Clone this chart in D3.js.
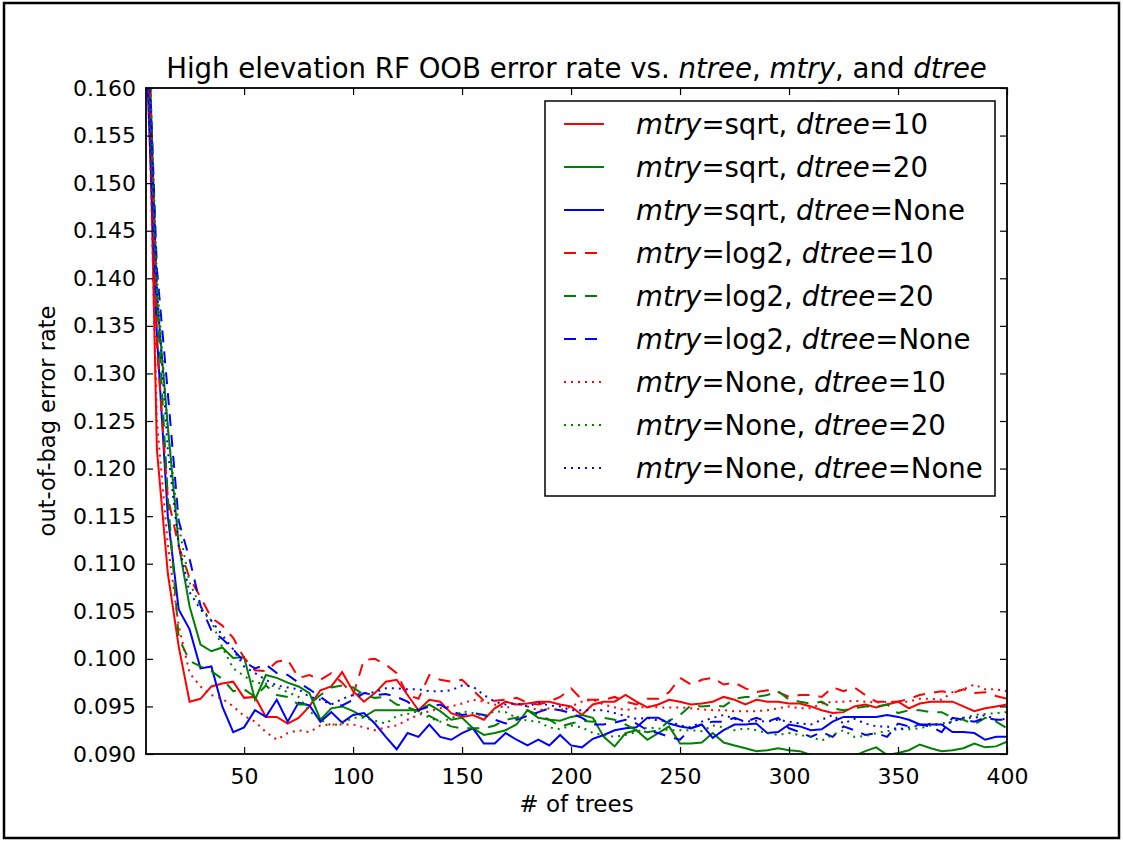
<!DOCTYPE html>
<html>
<head>
<meta charset="utf-8">
<script src="https://cdn.jsdelivr.net/npm/d3@7"></script>
<style>
  body { margin: 0; background: #fff; }
  text { font-family: "DejaVu Sans", sans-serif; fill: #000; }
</style>
</head>
<body>
<div id="chart"></div>
<script>
"use strict";

// number of trees, 5 .. 400 step 5
const ntree = d3.range(5, 401, 5);

// out-of-bag error rate per setting (one value per ntree)
const sqrt10 = [
  0.176, 0.122, 0.109, 0.1013, 0.0955, 0.0958, 0.0971, 0.0974, 0.0976, 0.0959,
  0.0960, 0.0939, 0.0939, 0.0932, 0.0938, 0.0950, 0.0967, 0.0971, 0.0986, 0.0966,
  0.0955, 0.0964, 0.0976, 0.0978, 0.0962, 0.0946, 0.0957, 0.0955, 0.0943, 0.0939,
  0.0941, 0.0936, 0.0948, 0.0955, 0.0952, 0.0953, 0.0955, 0.0955, 0.0952, 0.0950,
  0.0941, 0.0952, 0.0955, 0.0955, 0.0962, 0.0955, 0.0949, 0.0952, 0.0957, 0.0955,
  0.0952, 0.0953, 0.0955, 0.0960, 0.0957, 0.0952, 0.0957, 0.0955, 0.0955, 0.0953,
  0.0953, 0.0950, 0.0946, 0.0943, 0.0944, 0.0950, 0.0952, 0.0949, 0.0952, 0.0955,
  0.0948, 0.0953, 0.0955, 0.0955, 0.0955, 0.0950, 0.0945, 0.0948, 0.0950, 0.0952
];
const sqrt20 = [
  0.175, 0.138, 0.1245, 0.112, 0.1055, 0.1015, 0.1008, 0.1012, 0.1001, 0.1002,
  0.0957, 0.0983, 0.0980, 0.0975, 0.0971, 0.0964, 0.0936, 0.0948, 0.0950, 0.0945,
  0.0939, 0.0946, 0.0946, 0.0946, 0.0946, 0.0946, 0.0952, 0.0945, 0.0936, 0.0938,
  0.0927, 0.0920, 0.0922, 0.0925, 0.0931, 0.0946, 0.0938, 0.0936, 0.0935, 0.0939,
  0.0941, 0.0938, 0.0918, 0.0908, 0.0922, 0.0925, 0.0915, 0.0922, 0.0929, 0.0911,
  0.0911, 0.0912, 0.0922, 0.0912, 0.0909, 0.0906, 0.0903, 0.0904, 0.0906, 0.0904,
  0.0903, 0.0899, 0.0897, 0.0899, 0.0896, 0.0898, 0.0903, 0.0907, 0.0899, 0.0901,
  0.0904, 0.0910, 0.0906, 0.0903, 0.0904, 0.0906, 0.0911, 0.0907, 0.0908, 0.0913
];
const sqrtNone = [
  0.165, 0.134, 0.115, 0.1052, 0.1031, 0.0990, 0.0992, 0.0950, 0.0923, 0.0928,
  0.0946, 0.0939, 0.0957, 0.0934, 0.0954, 0.0951, 0.0934, 0.0944, 0.0933, 0.0941,
  0.0943, 0.0932, 0.0918, 0.0905, 0.0922, 0.0918, 0.0931, 0.0918, 0.0915, 0.0922,
  0.0927, 0.0911, 0.0911, 0.0922, 0.0915, 0.0909, 0.0915, 0.0909, 0.0920, 0.0909,
  0.0907, 0.0916, 0.0920, 0.0925, 0.0927, 0.0928, 0.0938, 0.0938, 0.0932, 0.0929,
  0.0927, 0.0931, 0.0917, 0.0925, 0.0931, 0.0931, 0.0932, 0.0922, 0.0923, 0.0931,
  0.0929, 0.0925, 0.0926, 0.0934, 0.0939, 0.0939, 0.0939, 0.0939, 0.0941, 0.0939,
  0.0936, 0.0931, 0.0931, 0.0931, 0.0923, 0.0923, 0.0922, 0.0915, 0.0918, 0.0918
];
const log2_10 = [
  0.178, 0.133, 0.117, 0.1118, 0.1085, 0.1065, 0.1043, 0.1035, 0.1022, 0.1001,
  0.0988, 0.0987, 0.0997, 0.0999, 0.0980, 0.0983, 0.0978, 0.0985, 0.0975, 0.0962,
  0.0999, 0.1000, 0.0994, 0.0985, 0.0962, 0.0958, 0.0983, 0.0978, 0.0976, 0.0978,
  0.0967, 0.0956, 0.0956, 0.0957, 0.0959, 0.0954, 0.0952, 0.0955, 0.0960, 0.0969,
  0.0957, 0.0957, 0.0957, 0.0960, 0.0955, 0.0952, 0.0958, 0.0958, 0.0965, 0.0980,
  0.0973, 0.0978, 0.0980, 0.0973, 0.0975, 0.0969, 0.0965, 0.0967, 0.0965, 0.0960,
  0.0962, 0.0962, 0.0960, 0.0970, 0.0966, 0.0970, 0.0962, 0.0955, 0.0955, 0.0955,
  0.0958, 0.0962, 0.0964, 0.0966, 0.0964, 0.0968, 0.0964, 0.0965, 0.0961, 0.0958
];
const log2_20 = [
  0.172, 0.138, 0.117, 0.1022, 0.0998, 0.0992, 0.0987, 0.0979, 0.0966, 0.0968,
  0.0960, 0.0972, 0.0962, 0.0960, 0.0952, 0.0952, 0.0962, 0.0970, 0.0972, 0.0970,
  0.0962, 0.0959, 0.0960, 0.0952, 0.0949, 0.0945, 0.0940, 0.0934, 0.0929, 0.0927,
  0.0927, 0.0927, 0.0930, 0.0936, 0.0938, 0.0946, 0.0941, 0.0936, 0.0929, 0.0932,
  0.0935, 0.0934, 0.0938, 0.0936, 0.0931, 0.0925, 0.0923, 0.0925, 0.0935, 0.0941,
  0.0951, 0.0950, 0.0951, 0.0950, 0.0958, 0.0960, 0.0960, 0.0962, 0.0966, 0.0957,
  0.0955, 0.0953, 0.0955, 0.0948, 0.0946, 0.0948, 0.0950, 0.0950, 0.0952, 0.0943,
  0.0946, 0.0946, 0.0944, 0.0944, 0.0938, 0.0936, 0.0931, 0.0938, 0.0934, 0.0927
];
const log2None = [
  0.172, 0.141, 0.128, 0.1145, 0.1105, 0.1056, 0.1030, 0.1021, 0.1010, 0.0997,
  0.0990, 0.0994, 0.0985, 0.0983, 0.0975, 0.0968, 0.0960, 0.0952, 0.0951, 0.0957,
  0.0964, 0.0962, 0.0963, 0.0960, 0.0955, 0.0946, 0.0950, 0.0952, 0.0945, 0.0941,
  0.0943, 0.0941, 0.0936, 0.0932, 0.0936, 0.0940, 0.0944, 0.0948, 0.0946, 0.0943,
  0.0938, 0.0931, 0.0931, 0.0933, 0.0936, 0.0932, 0.0925, 0.0922, 0.0918, 0.0915,
  0.0927, 0.0931, 0.0934, 0.0934, 0.0938, 0.0934, 0.0938, 0.0934, 0.0938, 0.0927,
  0.0923, 0.0918, 0.0923, 0.0918, 0.0929, 0.0925, 0.0920, 0.0922, 0.0918, 0.0932,
  0.0929, 0.0931, 0.0929, 0.0923, 0.0938, 0.0936, 0.0934, 0.0938, 0.0936, 0.0936
];
const none10 = [
  0.170, 0.125, 0.112, 0.1035, 0.0985, 0.0971, 0.0962, 0.0958, 0.0950, 0.0940,
  0.0934, 0.0923, 0.0915, 0.0922, 0.0925, 0.0923, 0.0930, 0.0931, 0.0931, 0.0931,
  0.0928, 0.0925, 0.0928, 0.0930, 0.0936, 0.0941, 0.0945, 0.0948, 0.0950, 0.0953,
  0.0957, 0.0955, 0.0952, 0.0948, 0.0953, 0.0950, 0.0946, 0.0948, 0.0946, 0.0950,
  0.0955, 0.0957, 0.0952, 0.0949, 0.0946, 0.0948, 0.0950, 0.0949, 0.0949, 0.0949,
  0.0948, 0.0947, 0.0946, 0.0946, 0.0945, 0.0945, 0.0945, 0.0946, 0.0948, 0.0950,
  0.0948, 0.0948, 0.0953, 0.0955, 0.0955, 0.0956, 0.0955, 0.0954, 0.0955, 0.0955,
  0.0955, 0.0958, 0.0958, 0.0957, 0.0965, 0.0968, 0.0973, 0.0968, 0.0968, 0.0966
];
const none20 = [
  0.174, 0.140, 0.124, 0.114, 0.108, 0.1055, 0.1040, 0.1012, 0.0990, 0.0982,
  0.0975, 0.0974, 0.0970, 0.0965, 0.0960, 0.0945, 0.0936, 0.0930, 0.0932, 0.0938,
  0.0938, 0.0935, 0.0932, 0.0940, 0.0942, 0.0945, 0.0938, 0.0934, 0.0937, 0.0945,
  0.0943, 0.0940, 0.0945, 0.0944, 0.0938, 0.0935, 0.0934, 0.0928, 0.0926, 0.0930,
  0.0928, 0.0922, 0.0920, 0.0918, 0.0920, 0.0923, 0.0928, 0.0927, 0.0925, 0.0925,
  0.0925, 0.0924, 0.0930, 0.0928, 0.0925, 0.0927, 0.0925, 0.0922, 0.0920, 0.0922,
  0.0920, 0.0918, 0.0914, 0.0920, 0.0925, 0.0918, 0.0919, 0.0922, 0.0924, 0.0926,
  0.0926, 0.0927, 0.0930, 0.0932, 0.0934, 0.0938, 0.0941, 0.0942, 0.0943, 0.0944
];
const noneNone = [
  0.170, 0.139, 0.122, 0.112, 0.107, 0.1052, 0.1040, 0.1025, 0.1010, 0.0992,
  0.0985, 0.0978, 0.0972, 0.0970, 0.0968, 0.0960, 0.0957, 0.0952, 0.0958, 0.0962,
  0.0964, 0.0965, 0.0969, 0.0969, 0.0968, 0.0968, 0.0966, 0.0966, 0.0967, 0.0972,
  0.0971, 0.0962, 0.0955, 0.0952, 0.0953, 0.0950, 0.0954, 0.0951, 0.0950, 0.0946,
  0.0946, 0.0946, 0.0946, 0.0943, 0.0940, 0.0937, 0.0938, 0.0935, 0.0935, 0.0930,
  0.0928, 0.0934, 0.0938, 0.0941, 0.0937, 0.0934, 0.0935, 0.0934, 0.0936, 0.0934,
  0.0932, 0.0931, 0.0936, 0.0941, 0.0932, 0.0937, 0.0932, 0.0929, 0.0929, 0.0926,
  0.0928, 0.0930, 0.0932, 0.0930, 0.0934, 0.0938, 0.0938, 0.0941, 0.0936, 0.0937
];

const mtryLabels = ["sqrt", "sqrt", "sqrt", "log2", "log2", "log2", "None", "None", "None"];
const dtreeLabels = ["10", "20", "None", "10", "20", "None", "10", "20", "None"];
const seriesValues = [sqrt10, sqrt20, sqrtNone, log2_10, log2_20, log2None, none10, none20, noneNone];

const xTicks = [50, 100, 150, 200, 250, 300, 350, 400];
const yTicks = d3.range(0.090, 0.1601, 0.005);

// styles
const COLORS = ["#ff0000", "#008000", "#0000ff"];
const DASHES = [null, "12,9", "2,5"];

const svgWidth = 1123, svgHeight = 844;
const plot = { left: 146, right: 1007, top: 88, bottom: 754 };

const svg = d3.select("#chart").append("svg")
    .attr("width", svgWidth)
    .attr("height", svgHeight);

// outer frame of the picture
svg.append("rect")
    .attr("x", 4).attr("y", 3)
    .attr("width", 1115).attr("height", 835)
    .attr("fill", "none")
    .attr("stroke", "#000")
    .attr("stroke-width", 2.5);

const x = d3.scaleLinear().domain([5, 400]).range([plot.left, plot.right]);
const y = d3.scaleLinear().domain([0.090, 0.160]).range([plot.bottom, plot.top]);

svg.append("clipPath").attr("id", "plotclip")
    .append("rect")
    .attr("x", plot.left).attr("y", plot.top)
    .attr("width", plot.right - plot.left).attr("height", plot.bottom - plot.top);

const series = seriesValues.map((vals, i) => ({
    mtry: mtryLabels[i],
    dtree: dtreeLabels[i],
    color: COLORS[i % 3],
    dash: DASHES[Math.floor(i / 3)],
    points: ntree.map((n, j) => [n, vals[j]])
}));

const line = d3.line().x(d => x(d[0])).y(d => y(d[1]));

svg.append("g")
    .attr("clip-path", "url(#plotclip)")
    .selectAll("path")
    .data(series)
    .enter()
    .append("path")
    .attr("d", d => line(d.points))
    .attr("fill", "none")
    .attr("stroke", d => d.color)
    .attr("stroke-width", 2)
    .attr("stroke-dasharray", d => d.dash);

// axes, ticks pointing inward on all four sides
const tickSize = 7;
const xBottom = svg.append("g")
    .attr("transform", "translate(0," + plot.bottom + ")")
    .call(d3.axisBottom(x).tickValues(xTicks).tickSizeInner(-tickSize).tickSizeOuter(0).tickPadding(14));
const xTop = svg.append("g")
    .attr("transform", "translate(0," + plot.top + ")")
    .call(d3.axisTop(x).tickValues(xTicks).tickSizeInner(-tickSize).tickSizeOuter(0).tickFormat(""));
const yLeft = svg.append("g")
    .attr("transform", "translate(" + plot.left + ",0)")
    .call(d3.axisLeft(y).tickValues(yTicks).tickSizeInner(-tickSize).tickSizeOuter(0).tickPadding(10).tickFormat(d3.format(".3f")));
const yRight = svg.append("g")
    .attr("transform", "translate(" + plot.right + ",0)")
    .call(d3.axisRight(y).tickValues(yTicks).tickSizeInner(-tickSize).tickSizeOuter(0).tickFormat(""));

[xBottom, xTop, yLeft, yRight].forEach(g => {
    g.select(".domain").remove();
    g.selectAll(".tick line").attr("stroke", "#000").attr("stroke-width", 1.2);
    g.selectAll(".tick text")
        .style("font-family", "DejaVu Sans")
        .style("font-size", "22px")
        .attr("fill", "#000");
});

// plot frame
svg.append("rect")
    .attr("x", plot.left).attr("y", plot.top)
    .attr("width", plot.right - plot.left).attr("height", plot.bottom - plot.top)
    .attr("fill", "none")
    .attr("stroke", "#000")
    .attr("stroke-width", 1.8);

// title with italic parameter names
const title = svg.append("text")
    .attr("x", (plot.left + plot.right) / 2)
    .attr("y", 78)
    .attr("text-anchor", "middle")
    .style("font-size", "27.6px");
[["High elevation RF OOB error rate vs. ", false], ["ntree", true], [", ", false],
 ["mtry", true], [", and ", false], ["dtree", true]].forEach(p => {
    title.append("tspan").text(p[0]).style("font-style", p[1] ? "italic" : "normal");
});

// axis labels
svg.append("text")
    .attr("x", (plot.left + plot.right) / 2)
    .attr("y", 812)
    .attr("text-anchor", "middle")
    .style("font-size", "23px")
    .text("# of trees");

svg.append("text")
    .attr("transform", "translate(55," + (plot.top + plot.bottom) / 2 + ") rotate(-90)")
    .attr("text-anchor", "middle")
    .style("font-size", "22.5px")
    .text("out-of-bag error rate");

// legend
const legend = svg.append("g");
legend.append("rect")
    .attr("x", 545).attr("y", 101)
    .attr("width", 450).attr("height", 395)
    .attr("fill", "#fff")
    .attr("stroke", "#000")
    .attr("stroke-width", 1.5);

const rows = legend.selectAll("g.row")
    .data(series)
    .enter()
    .append("g")
    .attr("class", "row")
    .attr("transform", (d, i) => "translate(0," + (124 + i * 43) + ")");

rows.append("line")
    .attr("x1", 564).attr("x2", 604)
    .attr("stroke", d => d.color)
    .attr("stroke-width", 2)
    .attr("stroke-dasharray", d => d.dash);

rows.append("text")
    .attr("x", 636)
    .attr("dy", "0.36em")
    .style("font-size", "27.6px")
    .each(function (d) {
        const t = d3.select(this);
        t.append("tspan").text("mtry").style("font-style", "italic");
        t.append("tspan").text("=" + d.mtry + ", ");
        t.append("tspan").text("dtree").style("font-style", "italic");
        t.append("tspan").text("=" + d.dtree);
    });
</script>
</body>
</html>
